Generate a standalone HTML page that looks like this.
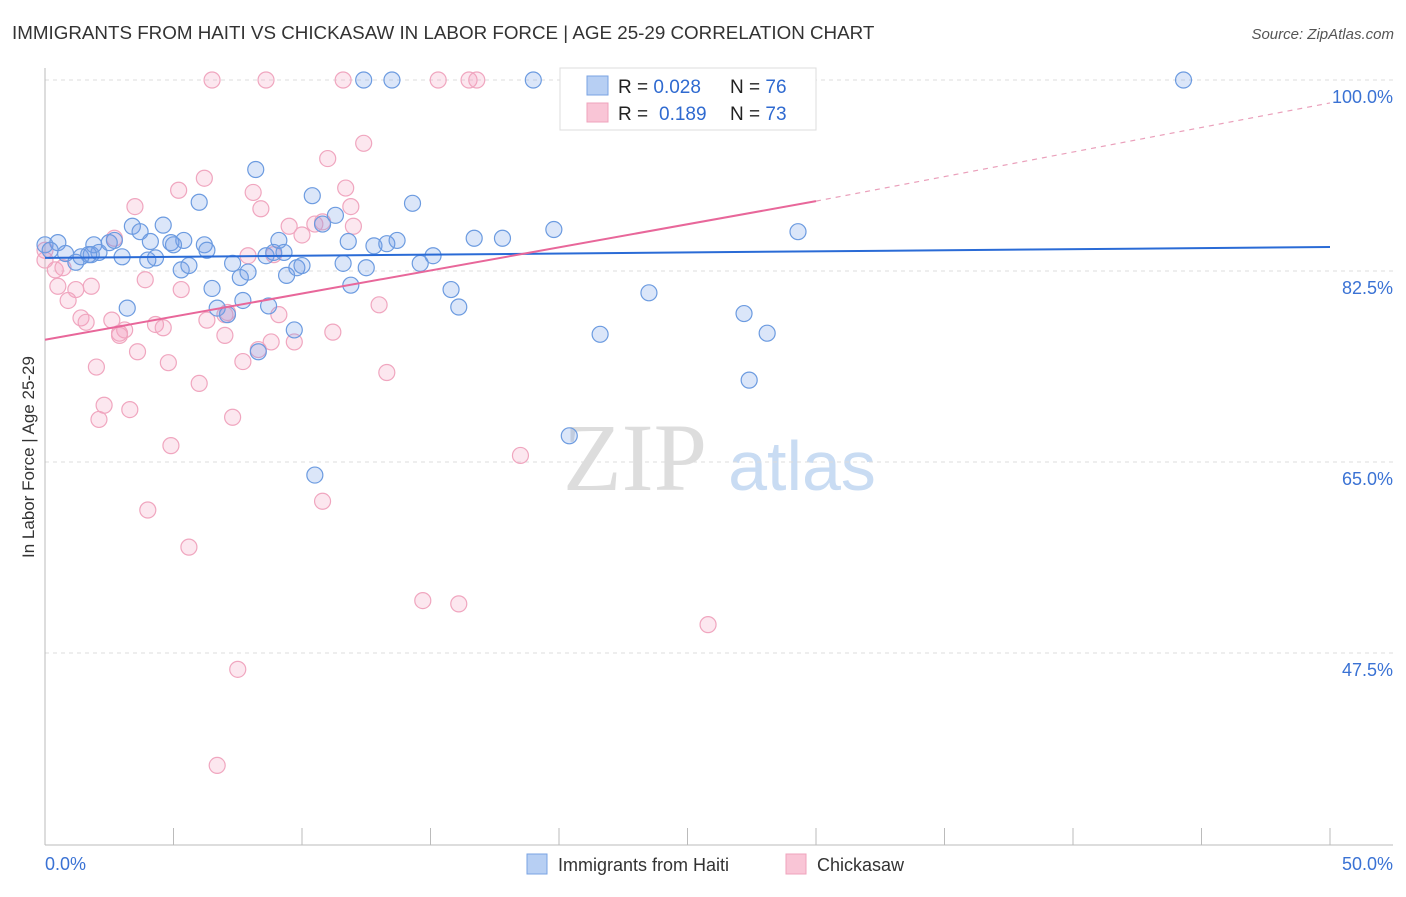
<!DOCTYPE html>
<html><head><meta charset="utf-8"><style>
body{margin:0;background:#fff;font-family:"Liberation Sans",sans-serif;}
</style></head><body>
<svg width="1406" height="892" xmlns="http://www.w3.org/2000/svg" font-family="Liberation Sans, sans-serif">
<text x="12" y="39" font-size="18.8" fill="#333">IMMIGRANTS FROM HAITI VS CHICKASAW IN LABOR FORCE | AGE 25-29 CORRELATION CHART</text>
<text x="1394" y="39" font-size="15" fill="#555" font-style="italic" text-anchor="end">Source: ZipAtlas.com</text>
<g>
<text x="635" y="490" font-size="96" fill="#ddd" font-family="Liberation Serif, serif" text-anchor="middle">ZIP</text>
<text x="802" y="490" font-size="70" fill="#c9dcf3" text-anchor="middle">atlas</text>
</g>
<g id="grid"></g>
<g id="axes"></g>
<g id="pts"></g>
<g id="lines"></g>
<g>
<rect x="560" y="68" width="256" height="62" fill="#fff" stroke="#ddd"/>
<rect x="587" y="76" width="21" height="19" fill="#b7cff3" stroke="#7aa3e3"/>
<rect x="587" y="103" width="21" height="19" fill="#f9c5d6" stroke="#efa3bc"/>
<text x="618" y="93" font-size="19" fill="#222">R = <tspan fill="#2f6ad0">0.028</tspan></text>
<text x="730" y="93" font-size="19" fill="#222">N = <tspan fill="#2f6ad0">76</tspan></text>
<text x="618" y="120" font-size="19" fill="#222">R = </text>
<text x="659" y="120" font-size="19" fill="#2f6ad0">0.189</text>
<text x="730" y="120" font-size="19" fill="#222">N = <tspan fill="#2f6ad0">73</tspan></text>
</g>
<text transform="translate(34,457) rotate(-90)" font-size="17" fill="#333" text-anchor="middle">In Labor Force | Age 25-29</text>
<g>
<rect x="527" y="854" width="20" height="20" fill="#b7cff3" stroke="#7aa3e3"/>
<text x="558" y="871" font-size="18" fill="#333">Immigrants from Haiti</text>
<rect x="786" y="854" width="20" height="20" fill="#f9c5d6" stroke="#efa3bc"/>
<text x="817" y="871" font-size="18" fill="#333">Chickasaw</text>
</g>
</svg>
<script>
const yTicks=[100,82.5,65,47.5];
const yTickLabels=["100.0%","82.5%","65.0%","47.5%"];
const xEndLabels=["0.0%","50.0%"];
const haitiX=[0,0.5,0.2,0.8,1.2,1.4,1.8,1.9,2.1,2.5,2.7,3.0,3.2,3.4,3.7,4.0,4.1,4.3,4.6,4.9,5.3,5.4,5.6,6.0,6.2,6.3,6.5,6.7,7.1,7.3,7.6,7.7,7.9,8.2,8.3,8.6,8.7,8.9,9.1,9.4,9.7,9.8,10.0,10.4,10.5,10.8,11.3,11.6,11.8,11.9,12.5,12.8,13.3,13.7,14.3,14.6,15.1,15.8,16.1,16.7,17.8,19.0,19.8,20.4,21.6,23.5,27.2,27.4,28.1,29.3,44.3,12.4,13.5,9.3,1.7,5.0];
const haitiY=[84.9,85.1,84.4,84.1,83.3,83.8,84.0,84.9,84.2,85.1,85.3,83.8,79.1,86.6,86.1,83.5,85.2,83.7,86.7,85.1,82.6,85.3,83.0,88.8,84.9,84.4,80.9,79.1,78.5,83.2,81.9,79.8,82.4,91.8,75.1,83.9,79.3,84.2,85.3,82.1,77.1,82.8,83.0,89.4,63.8,86.8,87.6,83.2,85.2,81.2,82.8,84.8,85.0,85.3,88.7,83.2,83.9,80.8,79.2,85.5,85.5,100,86.3,67.4,76.7,80.5,78.6,72.5,76.8,86.1,100,100,100,84.2,84.0,84.9];
const chickX=[6.5,8.6,11.6,15.3,16.5,16.8,20.4,12.4,11.0,6.2,5.2,8.1,11.7,8.4,3.5,11.9,9.5,10.5,12.0,10.0,2.7,7.9,8.9,0.4,0.7,3.9,5.3,0.5,1.2,1.8,0.9,13.0,9.1,7.0,6.3,2.6,1.4,1.6,4.3,4.6,2.9,3.1,11.2,7.0,9.7,8.8,8.3,3.6,7.7,4.8,2.0,13.3,6.0,2.3,3.3,2.1,7.3,4.9,18.5,10.8,4.0,5.6,14.7,16.1,25.8,7.5,6.7,0,0,23.7,10.8,7.1,2.9];
const chickY=[100,100,100,100,100,100,100,94.2,92.8,91.0,89.9,89.7,90.1,88.2,88.4,88.4,86.6,86.8,86.6,85.8,85.5,83.9,84.0,82.6,82.8,81.7,80.8,81.1,80.8,81.1,79.8,79.4,78.5,78.5,78.0,78.0,78.2,77.8,77.6,77.3,76.8,77.1,76.9,76.6,76.0,76.0,75.3,75.1,74.2,74.1,73.7,73.2,72.2,70.2,69.8,68.9,69.1,66.5,65.6,61.4,60.6,57.2,52.3,52.0,50.1,46.0,37.2,83.5,84.4,100,87.0,78.7,76.6];
const haitiTrend=[[0,83.7],[50,84.7]];
const chickTrendSolid=[[0,76.2],[30,88.9]];
const chickTrendDash=[[30,88.9],[50,97.9]];
const NS="http://www.w3.org/2000/svg";
const sx=v=>45+v*25.7;
const sy=v=>80+(100-v)*10.914;
function mk(t,a,p){const e=document.createElementNS(NS,t);for(const k in a)e.setAttribute(k,a[k]);p.appendChild(e);return e;}
const grid=document.getElementById('grid'),axes=document.getElementById('axes'),pts=document.getElementById('pts'),lines=document.getElementById('lines');
yTicks.forEach((t,i)=>{
 const g=mk('line',{x1:45,x2:1393,y1:sy(t),y2:sy(t),stroke:'#ddd','stroke-dasharray':'4,4'},grid);
 
 
 const l=mk('text',{x:1393,y:sy(t)+23,'font-size':18,fill:'#3a72d4','text-anchor':'end'},axes);
 l.textContent=yTickLabels[i];
 
 
});
const ya=mk('line',{x1:45,x2:45,y1:68,y2:845,stroke:'#bbb'},axes);


const xa=mk('line',{x1:45,x2:1393,y1:845,y2:845,stroke:'#bbb'},axes);


for(let k=0;k<=10;k++){
 const t=mk('line',{x1:sx(k*5),x2:sx(k*5),y1:828,y2:845,stroke:'#bbb'},axes);
 
 
}
[[0,'start',45],[50,'end',1393]].forEach((d,i)=>{
 const t=mk('text',{x:d[2],y:870,'font-size':18,fill:'#3a72d4','text-anchor':d[1]},axes);
 t.textContent=xEndLabels[i];
 
 
});
function dots(X,Y,fill,stroke,name){
 X.forEach((x,i)=>{
  const c=mk('circle',{cx:sx(x),cy:sy(Y[i]),r:8,fill:fill,stroke:stroke,'stroke-width':1.2},pts);
  
  
 });
}
dots(chickX,chickY,'rgba(244,160,190,0.25)','#f0a6bf','chickasaw-point');
dots(haitiX,haitiY,'rgba(110,155,230,0.25)','#6c9be0','haiti-point');
function ln(p,col,dash,name,w){
 const l=mk('line',{x1:sx(p[0][0]),y1:sy(p[0][1]),x2:sx(p[1][0]),y2:sy(p[1][1]),stroke:col,'stroke-width':w},lines);
 if(dash)l.setAttribute('stroke-dasharray',dash);
 
 
}
ln(haitiTrend,'#2a6bd6',null,'haiti-trend-line',2);
ln(chickTrendSolid,'#e8679a',null,'chickasaw-trend-line',2);
ln(chickTrendDash,'#eaa0bb','5,5','chickasaw-trend-extension',1.2);
</script>
</body></html>
